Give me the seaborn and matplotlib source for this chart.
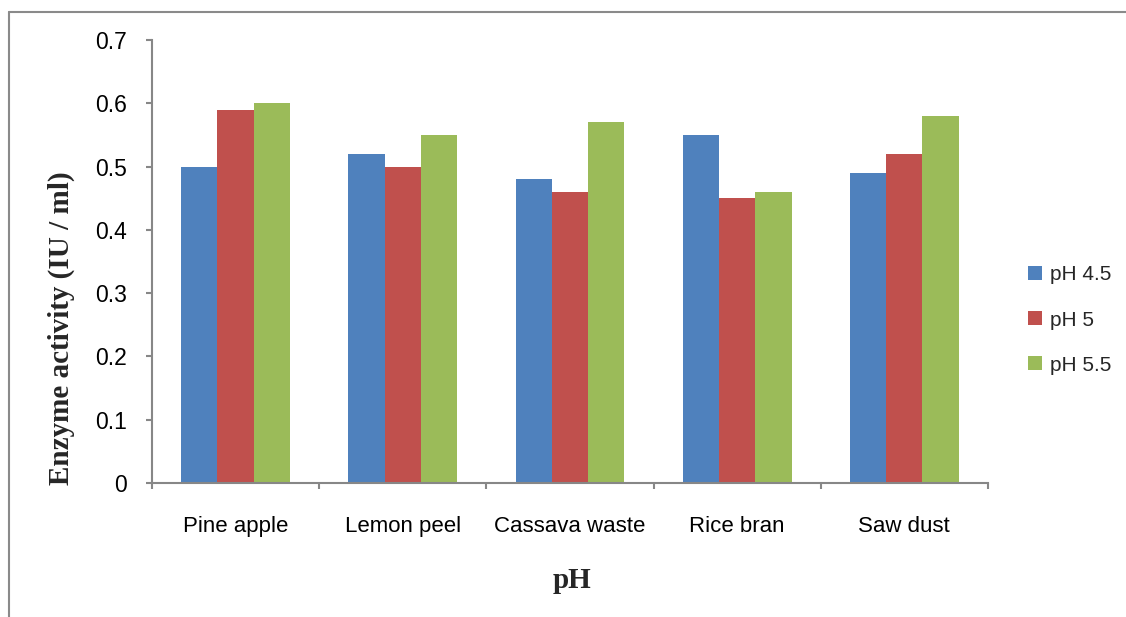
import matplotlib
matplotlib.use("Agg")
import matplotlib.pyplot as plt
from matplotlib.lines import Line2D
import seaborn as sns
import pandas as pd

categories = ["Pine apple", "Lemon peel", "Cassava waste", "Rice bran", "Saw dust"]
series_names = ["pH 4.5", "pH 5", "pH 5.5"]
ph_45 = [0.50, 0.52, 0.48, 0.55, 0.49]
ph_5 = [0.59, 0.50, 0.46, 0.45, 0.52]
ph_55 = [0.60, 0.55, 0.57, 0.46, 0.58]
y_ticks = [0, 0.1, 0.2, 0.3, 0.4, 0.5, 0.6, 0.7]
y_tick_labels = ["0", "0.1", "0.2", "0.3", "0.4", "0.5", "0.6", "0.7"]

colors = ["#4F81BD", "#C0504D", "#9BBB59"]
gray = "#878787"

rows = []
for name, vals in zip(series_names, [ph_45, ph_5, ph_55]):
    for c, v in zip(categories, vals):
        rows.append({"Substrate": c, "Activity": v, "Series": name})
df = pd.DataFrame(rows)

sns.set_style("white")
plt.rcParams["font.family"] = ["Liberation Sans", "DejaVu Sans"]

fig = plt.figure(figsize=(11.26, 6.17), dpi=100)
ax = fig.add_axes([0.1350, 0.2172, 0.7424, 0.7180])

sns.barplot(data=df, x="Substrate", y="Activity", hue="Series",
            order=categories, hue_order=series_names, palette=colors,
            width=0.65, gap=0, saturation=1, edgecolor="none", linewidth=0,
            errorbar=None, ax=ax)

ax.set_xlim(-0.5, len(categories) - 0.5)
ax.set_ylim(0, 0.7)
ax.set_yticks(y_ticks)
ax.set_yticklabels(y_tick_labels)

for s in ["top", "right"]:
    ax.spines[s].set_visible(False)
for s in ["left", "bottom"]:
    ax.spines[s].set_color(gray)
    ax.spines[s].set_linewidth(1.5)

ax.tick_params(axis="y", which="major", direction="out", length=4.5, width=1.5,
               color=gray, pad=13.5, labelsize=16.5, labelcolor="black", left=True)
ax.tick_params(axis="x", which="major", length=0, pad=24, labelsize=16, labelcolor="black")
ax.set_xticks([i - 0.5 for i in range(len(categories) + 1)], minor=True)
ax.tick_params(axis="x", which="minor", direction="out", length=4, width=1.5,
               color=gray, bottom=True)

ax.set_ylabel("Enzyme activity (IU / ml)", family=["Liberation Serif", "DejaVu Serif"],
              fontweight="bold", fontsize=21, va="center", ha="center")
ax.yaxis.set_label_coords(-0.108, 0.350)
ax.set_xlabel("pH", family=["Liberation Serif", "DejaVu Serif"],
              fontweight="bold", fontsize=21, va="center", ha="center")
ax.xaxis.set_label_coords(0.502, -0.219)

handles, labels = ax.get_legend_handles_labels()
ax.legend(handles, labels, loc="center left",
          bbox_to_anchor=(1028 / 1126, 1 - 320 / 617), bbox_transform=fig.transFigure,
          frameon=False, fontsize=15, handlelength=0.67, handleheight=0.67,
          handletextpad=0.38, labelspacing=1.25, borderpad=0, borderaxespad=0)

# outer chart-area border (top and left edges visible)
fig.add_artist(Line2D([9 / 1126, 1.0], [1 - 12 / 617, 1 - 12 / 617],
                      transform=fig.transFigure, color="#8a8a8a", linewidth=1.5))
fig.add_artist(Line2D([9 / 1126, 9 / 1126], [0.0, 1 - 12 / 617],
                      transform=fig.transFigure, color="#8a8a8a", linewidth=1.5))

fig.savefig("out.png", dpi=100, facecolor="white")
